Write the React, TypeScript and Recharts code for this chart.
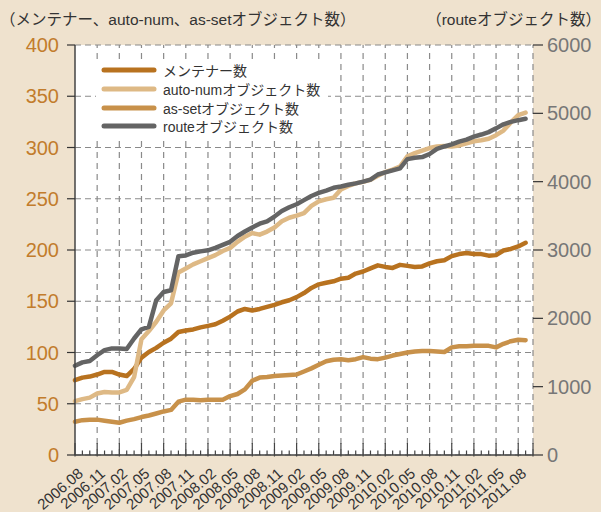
import React from 'react';
import { LineChart, Line, XAxis, YAxis, CartesianGrid, ReferenceLine, Legend } from 'recharts';

const MONTHS = [
  '2006.08','2006.09','2006.10','2006.11','2006.12','2007.01','2007.02','2007.03','2007.04','2007.05','2007.06','2007.07',
  '2007.08','2007.09','2007.10','2007.11','2007.12','2008.01','2008.02','2008.03','2008.04','2008.05','2008.06','2008.07',
  '2008.08','2008.09','2008.10','2008.11','2008.12','2009.01','2009.02','2009.03','2009.04','2009.05','2009.06','2009.07',
  '2009.08','2009.09','2009.10','2009.11','2009.12','2010.01','2010.02','2010.03','2010.04','2010.05','2010.06','2010.07',
  '2010.08','2010.09','2010.10','2010.11','2010.12','2011.01','2011.02','2011.03','2011.04','2011.05','2011.06','2011.07',
  '2011.08','2011.09','2011.10',
];

const TICK_LABELS = [
  '2006.08','2006.11','2007.02','2007.05','2007.08','2007.11','2008.02','2008.05','2008.08','2008.11','2009.02',
  '2009.05','2009.08','2009.11','2010.02','2010.05','2010.08','2010.11','2011.02','2011.05','2011.08',
];

// メンテナー数 (left axis)
const MAINTAINERS = [
  73, 75.5, 76.5, 78.5, 81, 81, 78.5, 77, 84, 95, 100.5, 104.5,
  109.5, 113.5, 120, 121.5, 122.5, 124.5, 126, 127.5, 131, 135, 140, 142.5,
  141, 142.5, 144.5, 146.5, 149, 151, 154, 158, 163, 166.5, 168, 169.5,
  172, 173, 177, 179, 182, 185, 183.5, 182.5, 185.5, 184.5, 183.5, 184,
  187, 189, 190, 194, 196, 197, 196, 196, 194.5, 195, 199.5, 201,
  203.5, 207,
];

// auto-numオブジェクト数 (left axis)
const AUTONUM = [
  52.5, 54.5, 56, 60, 61.5, 61, 61, 63.5, 76, 113, 121, 130,
  141, 148, 178, 182, 186, 189, 192, 195, 199, 202, 208, 213,
  216.5, 215, 218, 222, 228, 231.5, 233.5, 236, 243, 247.5, 249.5, 251,
  259, 262.5, 265, 266.5, 268.5, 272.5, 276, 278.5, 281.5, 291.5, 294.5, 297,
  299.5, 301, 301.5, 301, 302, 304, 306, 307, 308.5, 312, 316.5, 324.5,
  331.5, 334,
];

// as-setオブジェクト数 (left axis)
const ASSET = [
  32.5, 34, 34.5, 34.5, 33.5, 32.5, 31.5, 33.5, 35, 37, 38.5, 40.5,
  42.5, 44, 52, 54, 54, 53.5, 54, 54, 54, 57.5, 59.5, 64,
  72.5, 75.5, 76, 77, 77.5, 78, 78.5, 81.5, 84.5, 88, 91.5, 93,
  93.5, 92.5, 93.5, 95.5, 94, 93.5, 95, 97, 98.5, 100, 101, 101.5,
  101.5, 101, 100.5, 105, 106, 106, 106.5, 106.5, 106.5, 105, 108.5, 111,
  112.5, 112,
];

// routeオブジェクト数 (right axis)
const ROUTES = [
  1305, 1355, 1375, 1460, 1535, 1560, 1560, 1550, 1705, 1840, 1875, 2265,
  2385, 2410, 2910, 2920, 2960, 2980, 2995, 3030, 3075, 3120, 3205, 3270,
  3330, 3385, 3420, 3490, 3570, 3625, 3670, 3730, 3790, 3835, 3870, 3910,
  3930, 3955, 3975, 4000, 4030, 4105, 4135, 4165, 4195, 4330, 4350, 4360,
  4405, 4480, 4515, 4545, 4585, 4615, 4660, 4690, 4725, 4780, 4840, 4875,
  4900, 4920,
];

const LEFT_TICKS = [0, 50, 100, 150, 200, 250, 300, 350, 400];
const RIGHT_TICKS = [0, 1000, 2000, 3000, 4000, 5000, 6000];

const SERIES = [
  { key: 'maint', name: 'メンテナー数', color: '#B8721F', axis: 'left' },
  { key: 'autonum', name: 'auto-numオブジェクト数', color: '#DEB985', axis: 'left' },
  { key: 'asset', name: 'as-setオブジェクト数', color: '#C8914A', axis: 'left' },
  { key: 'route', name: 'routeオブジェクト数', color: '#646464', axis: 'right' },
];

const data = MONTHS.map((month, i) => ({
  month,
  maint: MAINTAINERS[i] ?? null,
  autonum: AUTONUM[i] ?? null,
  asset: ASSET[i] ?? null,
  route: ROUTES[i] ?? null,
}));

const GRID_MONTHS = MONTHS.filter((m, i) => (i % 3 === 0 && i > 0) || i === MONTHS.length - 1);

const FONT = "'Liberation Sans', Arial, 'Noto Sans CJK JP', sans-serif";

const XTick = (props: any) => {
  const { x, y, payload } = props;
  const label = payload.value as string;
  const idx = MONTHS.indexOf(label);
  const isMajor = idx % 3 === 0 || idx === MONTHS.length - 1;
  const show = TICK_LABELS.includes(label);
  return (
    <g>
      <line
        x1={x}
        x2={x}
        y1={y - (isMajor ? 12 : 4.5)}
        y2={y + (isMajor ? 1.5 : 0)}
        stroke="#444"
        strokeWidth={1.2}
      />
      {show && (
        <text
          transform={`translate(${x + 9},${y + 20}) rotate(-41)`}
          textAnchor="end"
          fontSize={15}
          fill="#333"
        >
          {label}
        </text>
      )}
    </g>
  );
};

const LegendBox = () => (
  <div
    style={{
      background: '#fff',
      padding: '0 8px 0 5px',
      fontFamily: FONT,
      fontSize: 14,
      color: '#333',
    }}
  >
    {SERIES.map((s) => (
      <div key={s.key} style={{ display: 'flex', alignItems: 'center', height: 18.7 }}>
        <svg width={56} height={8} style={{ marginRight: 6 }}>
          <line x1={3} x2={53} y1={4} y2={4} stroke={s.color} strokeWidth={5} strokeLinecap="round" />
        </svg>
        <span style={{ whiteSpace: 'nowrap' }}>{s.name}</span>
      </div>
    ))}
  </div>
);

export default function App() {
  return (
    <div
      style={{
        position: 'absolute',
        left: 0,
        top: 0,
        width: 601,
        height: 512,
        background: '#EFE2CE',
        overflow: 'hidden',
        fontFamily: FONT,
      }}
    >
      <div
        style={{
          position: 'absolute',
          left: 0,
          top: 10,
          fontSize: 15.5,
          color: '#333',
          whiteSpace: 'nowrap',
          lineHeight: '20px',
        }}
      >
        （メンテナー、auto-num、as-setオブジェクト数）
      </div>
      <div
        style={{
          position: 'absolute',
          right: 0,
          top: 10,
          fontSize: 15.5,
          color: '#333',
          whiteSpace: 'nowrap',
          textAlign: 'right',
          lineHeight: '20px',
        }}
      >
        （routeオブジェクト数）
      </div>
      <LineChart
        width={601}
        height={512}
        data={data}
        margin={{ top: 45, right: 0, bottom: 0, left: 0 }}
      >
        <CartesianGrid
          yAxisId="left"
          vertical={false}
          fill="#ffffff"
          fillOpacity={1}
          stroke="#8a8a8a"
          strokeWidth={1.2}
          strokeDasharray="6 4"
        />
        {GRID_MONTHS.map((m) => (
          <ReferenceLine
            key={m}
            x={m}
            yAxisId="left"
            stroke="#8a8a8a"
            strokeWidth={1.2}
            strokeDasharray="6 5"
          />
        ))}
        <XAxis
          dataKey="month"
          interval={0}
          height={57}
          tickSize={0}
          tickMargin={0}
          tickLine={false}
          tick={<XTick />}
          axisLine={{ stroke: '#444', strokeWidth: 1.5 }}
        />
        <YAxis
          yAxisId="left"
          width={75}
          domain={[0, 400]}
          ticks={LEFT_TICKS}
          interval={0}
          tickSize={8}
          tickMargin={8}
          tick={{ fill: '#C27C2C', fontSize: 20 }}
          tickLine={{ stroke: '#333', strokeWidth: 1.2 }}
          axisLine={{ stroke: '#444', strokeWidth: 1.5 }}
        />
        <YAxis
          yAxisId="right"
          orientation="right"
          width={68}
          domain={[0, 6000]}
          ticks={RIGHT_TICKS}
          interval={0}
          tickSize={10}
          tickMargin={4}
          tick={{ fill: '#777', fontSize: 20 }}
          tickLine={{ stroke: '#333', strokeWidth: 1.2 }}
          axisLine={false}
        />
        <Legend
          content={<LegendBox />}
          layout="horizontal"
          verticalAlign="middle"
          align="center"
          wrapperStyle={{ left: 96, top: 61, width: 'auto', height: 'auto' }}
        />
        {SERIES.map((s) => (
          <Line
            key={s.key}
            yAxisId={s.axis}
            dataKey={s.key}
            name={s.name}
            type="linear"
            stroke={s.color}
            strokeWidth={4.5}
            strokeLinejoin="round"
            strokeLinecap="round"
            dot={false}
            activeDot={false}
            isAnimationActive={false}
          />
        ))}
      </LineChart>
    </div>
  );
}
